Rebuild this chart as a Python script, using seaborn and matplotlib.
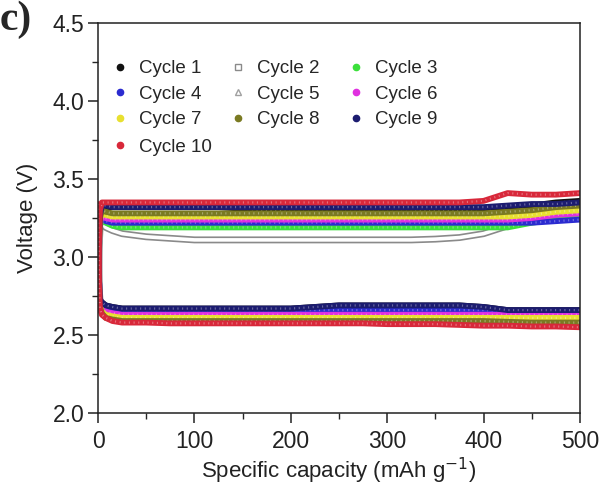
import matplotlib
matplotlib.use("Agg")
import matplotlib.pyplot as plt
import matplotlib.patheffects as pe
from matplotlib.lines import Line2D
import seaborn as sns
import pandas as pd

sns.set_theme(style="ticks")
plt.rcParams['font.family'] = ['Liberation Sans', 'DejaVu Sans']

capacity = [0, 1, 2, 4, 8, 15, 25, 50, 75, 100, 125, 150, 175, 200, 225,
            250, 275, 300, 325, 350, 375, 400, 425, 450, 475, 500]

cycles = ["Cycle 1", "Cycle 2", "Cycle 3", "Cycle 4", "Cycle 5",
          "Cycle 6", "Cycle 7", "Cycle 8", "Cycle 9", "Cycle 10"]

charge_1 = [2.72, 3.10, 3.26, 3.31, 3.32, 3.32, 3.32, 3.32, 3.32, 3.32, 3.32, 3.31, 3.30,
            3.29, 3.29, 3.29, 3.29, 3.29, 3.29, 3.30, 3.30, 3.31, 3.32, 3.33, 3.35, 3.36]
charge_2 = [2.72, 3.05, 3.18, 3.22, 3.19, 3.17, 3.15, 3.13, 3.12, 3.11, 3.11, 3.11, 3.11,
            3.11, 3.11, 3.11, 3.11, 3.11, 3.11, 3.115, 3.125, 3.15, 3.20, 3.25, 3.30, 3.33]
charge_3 = [2.72, 3.05, 3.20, 3.24, 3.22, 3.20, 3.19, 3.19, 3.19, 3.19, 3.19, 3.19, 3.19,
            3.19, 3.19, 3.19, 3.19, 3.19, 3.19, 3.19, 3.19, 3.19, 3.19, 3.22, 3.24, 3.25]
charge_4 = [2.72, 3.06, 3.22, 3.25, 3.23, 3.22, 3.22, 3.22, 3.22, 3.22, 3.22, 3.22, 3.22,
            3.22, 3.22, 3.22, 3.22, 3.22, 3.22, 3.22, 3.22, 3.22, 3.22, 3.22, 3.23, 3.24]
charge_5 = [2.72, 3.08, 3.24, 3.28, 3.27, 3.26, 3.26, 3.26, 3.26, 3.26, 3.26, 3.26, 3.26,
            3.26, 3.26, 3.26, 3.26, 3.26, 3.26, 3.26, 3.26, 3.26, 3.26, 3.27, 3.31, 3.31]
charge_6 = [2.72, 3.07, 3.23, 3.26, 3.25, 3.24, 3.24, 3.24, 3.24, 3.24, 3.24, 3.24, 3.24,
            3.24, 3.24, 3.24, 3.24, 3.24, 3.24, 3.24, 3.24, 3.24, 3.24, 3.25, 3.27, 3.28]
charge_7 = [2.72, 3.08, 3.24, 3.28, 3.27, 3.26, 3.26, 3.26, 3.26, 3.26, 3.26, 3.26, 3.26,
            3.26, 3.26, 3.26, 3.26, 3.26, 3.26, 3.26, 3.26, 3.26, 3.26, 3.27, 3.29, 3.30]
charge_8 = [2.72, 3.09, 3.25, 3.30, 3.29, 3.28, 3.28, 3.28, 3.28, 3.28, 3.28, 3.28, 3.28,
            3.28, 3.28, 3.28, 3.28, 3.28, 3.28, 3.28, 3.28, 3.28, 3.29, 3.30, 3.32, 3.33]
charge_9 = [2.72, 3.10, 3.27, 3.33, 3.33, 3.32, 3.32, 3.32, 3.32, 3.32, 3.32, 3.32, 3.32,
            3.32, 3.32, 3.32, 3.32, 3.32, 3.32, 3.32, 3.32, 3.32, 3.33, 3.34, 3.34, 3.35]
charge_10 = [2.70, 3.12, 3.30, 3.35, 3.35, 3.35, 3.35, 3.35, 3.35, 3.35, 3.35, 3.35, 3.35,
             3.35, 3.35, 3.35, 3.35, 3.35, 3.35, 3.35, 3.35, 3.36, 3.41, 3.40, 3.40, 3.41]

discharge_1 = [3.30, 2.85, 2.72, 2.71, 2.69, 2.68, 2.67, 2.67, 2.67, 2.67, 2.67, 2.67, 2.67,
               2.67, 2.68, 2.69, 2.69, 2.69, 2.69, 2.69, 2.69, 2.68, 2.66, 2.66, 2.66, 2.66]
discharge_2 = [3.22, 2.84, 2.70, 2.67, 2.65, 2.64, 2.63, 2.63, 2.63, 2.63, 2.63, 2.63, 2.63,
               2.63, 2.63, 2.63, 2.63, 2.63, 2.63, 2.63, 2.63, 2.63, 2.63, 2.63, 2.63, 2.63]
discharge_3 = [3.22, 2.84, 2.70, 2.66, 2.64, 2.63, 2.62, 2.62, 2.62, 2.62, 2.62, 2.62, 2.62,
               2.62, 2.62, 2.62, 2.62, 2.62, 2.62, 2.62, 2.62, 2.62, 2.62, 2.62, 2.62, 2.62]
discharge_4 = [3.24, 2.85, 2.72, 2.70, 2.68, 2.67, 2.66, 2.66, 2.66, 2.66, 2.66, 2.66, 2.66,
               2.66, 2.66, 2.66, 2.66, 2.66, 2.66, 2.66, 2.66, 2.66, 2.655, 2.655, 2.655, 2.655]
discharge_5 = [3.26, 2.84, 2.70, 2.66, 2.64, 2.63, 2.62, 2.62, 2.62, 2.62, 2.62, 2.62, 2.62,
               2.62, 2.62, 2.62, 2.62, 2.62, 2.62, 2.62, 2.62, 2.62, 2.62, 2.62, 2.62, 2.62]
discharge_6 = [3.24, 2.85, 2.70, 2.67, 2.65, 2.64, 2.63, 2.63, 2.63, 2.63, 2.63, 2.63, 2.63,
               2.63, 2.63, 2.63, 2.63, 2.63, 2.63, 2.63, 2.63, 2.63, 2.63, 2.63, 2.63, 2.63]
discharge_7 = [3.26, 2.84, 2.69, 2.65, 2.63, 2.62, 2.61, 2.61, 2.61, 2.61, 2.61, 2.61, 2.61,
               2.61, 2.61, 2.61, 2.61, 2.61, 2.61, 2.61, 2.61, 2.61, 2.61, 2.61, 2.61, 2.61]
discharge_8 = [3.28, 2.83, 2.68, 2.64, 2.61, 2.60, 2.59, 2.59, 2.59, 2.59, 2.59, 2.59, 2.59,
               2.59, 2.59, 2.59, 2.59, 2.59, 2.59, 2.59, 2.59, 2.59, 2.585, 2.58, 2.58, 2.58]
discharge_9 = [3.32, 2.86, 2.73, 2.71, 2.69, 2.68, 2.67, 2.67, 2.67, 2.67, 2.67, 2.67, 2.67,
               2.67, 2.68, 2.69, 2.69, 2.69, 2.69, 2.69, 2.69, 2.68, 2.66, 2.66, 2.66, 2.66]
discharge_10 = [3.34, 2.82, 2.67, 2.63, 2.61, 2.59, 2.58, 2.58, 2.575, 2.575, 2.575, 2.575, 2.575,
                2.575, 2.575, 2.575, 2.575, 2.57, 2.57, 2.57, 2.565, 2.56, 2.56, 2.555, 2.555, 2.55]

charges = [charge_1, charge_2, charge_3, charge_4, charge_5,
           charge_6, charge_7, charge_8, charge_9, charge_10]
discharges = [discharge_1, discharge_2, discharge_3, discharge_4, discharge_5,
              discharge_6, discharge_7, discharge_8, discharge_9, discharge_10]

colors = ["#111111", "#8a8a8a", "#3be03b", "#2b2bd0", "#a0a0a0",
          "#e030e0", "#e8e030", "#7a7a22", "#1c1c70", "#d8283a"]
markers = ["o", "s", "o", "o", "^", "o", "o", "o", "o", "o"]
hollow = [False, True, False, False, True, False, False, False, False, False]

fig = plt.figure(figsize=(6.1, 4.9), dpi=100)
ax = fig.add_axes([0.1607, 0.157, 0.79, 0.796])

for i, name in enumerate(cycles):
    for vals in (charges[i], discharges[i]):
        df = pd.DataFrame({"cap": capacity, "V": vals})
        if hollow[i]:
            sns.lineplot(data=df, x="cap", y="V", ax=ax, color="white", lw=2.6,
                         legend=False, sort=False,
                         path_effects=[pe.Stroke(linewidth=5.0, foreground=colors[i]),
                                       pe.Normal()])
        else:
            sns.lineplot(data=df, x="cap", y="V", ax=ax, color=colors[i], lw=4.2,
                         legend=False, sort=False)
            # dense-marker texture along the band
            sns.lineplot(data=df, x="cap", y="V", ax=ax, color="white", lw=1.6,
                         alpha=0.35, legend=False, sort=False,
                         linestyle=(0, (0.5, 1.6)))

ax.set_xlim(0, 500)
ax.set_ylim(2.0, 4.5)
ax.set_xticks([0, 100, 200, 300, 400, 500])
ax.set_xticks([50, 150, 250, 350, 450], minor=True)
ax.set_yticks([2.0, 2.5, 3.0, 3.5, 4.0, 4.5])
ax.set_yticks([2.25, 2.75, 3.25, 3.75, 4.25], minor=True)
ax.set_yticklabels(["2.0", "2.5", "3.0", "3.5", "4.0", "4.5"])
ax.tick_params(axis="both", which="major", direction="out", length=7, width=1.1,
               labelsize=16.5, colors="#222222")
ax.tick_params(axis="y", which="major", pad=3)
ax.tick_params(axis="x", which="major", pad=5)
ax.tick_params(axis="both", which="minor", direction="out", length=4, width=1.0)
for s in ax.spines.values():
    s.set_color("#222222")
    s.set_linewidth(1.1)

ax.set_xlabel("Specific capacity (mAh g$^{-1}$)", fontsize=16, color="#222222", labelpad=2)
ax.set_ylabel("Voltage (V)", fontsize=16, color="#222222")
ax.yaxis.set_label_coords(-0.124, 0.5)

handles = []
for i, name in enumerate(cycles):
    if hollow[i]:
        h = Line2D([], [], ls="none", marker=markers[i], ms=4.5, mfc="white",
                   mec=colors[i], mew=1.0, label=name)
    else:
        h = Line2D([], [], ls="none", marker=markers[i], ms=4.5, mfc=colors[i],
                   mec=colors[i], label=name)
    handles.append(h)

leg_kw = dict(frameon=False, fontsize=13.5, handlelength=1.0, handletextpad=0.5,
              columnspacing=1.45, labelspacing=0.45, borderaxespad=0.0,
              borderpad=0.0, loc="upper left")
order = [0, 3, 6, 1, 4, 7, 2, 5, 8]
leg1 = ax.legend([handles[k] for k in order], [cycles[k] for k in order], ncol=3,
                 bbox_to_anchor=(0.027, 0.905), **leg_kw)
ax.add_artist(leg1)
ax.legend([handles[9]], [cycles[9]], ncol=1,
          bbox_to_anchor=(0.027, 0.905 - 0.202), **leg_kw)

fig.text(0.0, 0.998, "c)", fontsize=30, fontweight="bold", va="top", ha="left",
         family=["Liberation Serif", "DejaVu Serif"])

fig.savefig("out.png", dpi=100)
